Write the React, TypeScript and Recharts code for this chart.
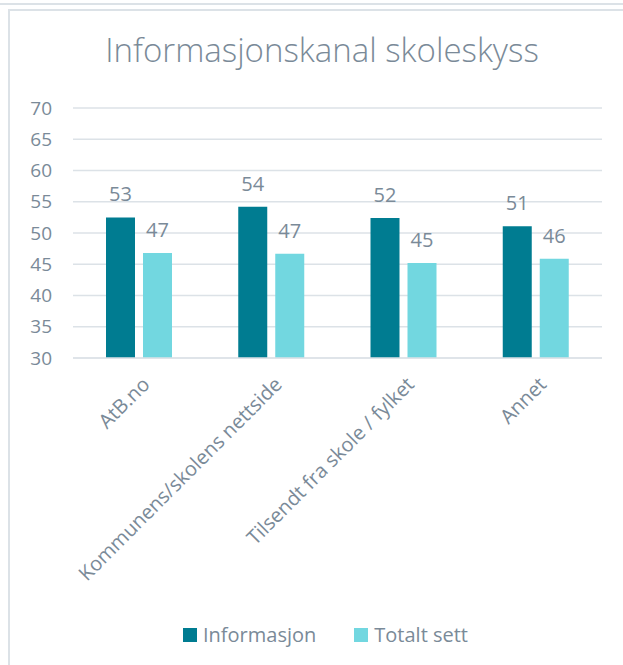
import { Bar, BarChart, CartesianGrid, LabelList, Legend, XAxis, YAxis } from 'recharts';

const categories = ['AtB.no', 'Kommunens/skolens nettside', 'Tilsendt fra skole / fylket', 'Annet'];
const informasjon = [52.5, 54.2, 52.4, 51.1];
const totaltSett = [46.8, 46.7, 45.2, 45.9];
const yTicks = [30, 35, 40, 45, 50, 55, 60, 65, 70];

const DARK = '#007c91';
const LIGHT = '#72d7e0';
const TEXT = '#7a8a98';
const GRID = '#dce2e7';
const FONT = '"Open Sans", "Noto Sans", sans-serif';

const data = categories.map((name, i) => ({
  name,
  informasjon: informasjon[i],
  totaltSett: totaltSett[i],
}));

function AngledTick(props: any) {
  const { x, y, payload } = props;
  return (
    <g transform={`translate(${x + 8},${y + 16})`}>
      <text
        transform="rotate(-45)"
        textAnchor="end"
        dominantBaseline="middle"
        fontSize={20}
        fontFamily={FONT}
        fill={TEXT}
      >
        {payload.value}
      </text>
    </g>
  );
}

function LegendContent() {
  const items = [
    { label: 'Informasjon', color: DARK },
    { label: 'Totalt sett', color: LIGHT },
  ];
  return (
    <div style={{ display: 'flex', gap: 38, fontFamily: FONT, paddingLeft: 183 }}>
      {items.map((it) => (
        <div key={it.label} style={{ display: 'flex', alignItems: 'center' }}>
          <span style={{ width: 14, height: 14, background: it.color, marginRight: 6 }} />
          <span style={{ fontSize: 20, color: TEXT }}>{it.label}</span>
        </div>
      ))}
    </div>
  );
}

export default function App() {
  return (
    <div style={{ position: 'absolute', left: 0, top: 0, width: 623, height: 665, background: '#fff', overflow: 'hidden' }}>
      <div style={{ position: 'absolute', left: 0, top: 3, width: 623, height: 2, background: GRID }} />
      <div
        style={{
          position: 'absolute',
          left: 8,
          top: 9,
          width: 640,
          height: 680,
          borderTop: `2px solid ${GRID}`,
          borderLeft: `2px solid ${GRID}`,
        }}
      />
      <div
        style={{
          position: 'absolute',
          left: 0,
          top: 27,
          width: 644,
          textAlign: 'center',
          fontFamily: FONT,
          fontSize: 33,
          fontWeight: 300,
          color: TEXT,
        }}
      >
        Informasjonskanal skoleskyss
      </div>
      <div style={{ position: 'absolute', left: 0, top: 0 }}>
        <BarChart
          width={623}
          height={665}
          data={data}
          margin={{ top: 108, right: 21, bottom: 14, left: 0 }}
          barSize={29}
          barGap={8}
        >
          <CartesianGrid vertical={false} stroke={GRID} strokeWidth={1.3} />
          <XAxis
            dataKey="name"
            interval={0}
            height={263}
            tick={<AngledTick />}
            tickLine={false}
            axisLine={{ stroke: GRID, strokeWidth: 1.3 }}
          />
          <YAxis
            domain={[30, 70]}
            ticks={yTicks}
            interval={0}
            width={73}
            axisLine={false}
            tickLine={false}
            tickSize={6}
            tickMargin={15}
            tick={{ fontSize: 19, fill: TEXT, fontFamily: FONT }}
          />
          <Legend verticalAlign="bottom" wrapperStyle={{ height: 30 }} content={<LegendContent />} />
          <Bar dataKey="informasjon" name="Informasjon" fill={DARK} isAnimationActive={false}>
            <LabelList
              dataKey="informasjon"
              position="top"
              offset={16}
              formatter={(v: any) => Math.round(Number(v))}
              style={{ fontSize: 20, fill: TEXT, fontFamily: FONT }}
            />
          </Bar>
          <Bar dataKey="totaltSett" name="Totalt sett" fill={LIGHT} isAnimationActive={false}>
            <LabelList
              dataKey="totaltSett"
              position="top"
              offset={16}
              formatter={(v: any) => Math.round(Number(v))}
              style={{ fontSize: 20, fill: TEXT, fontFamily: FONT }}
            />
          </Bar>
        </BarChart>
      </div>
    </div>
  );
}
